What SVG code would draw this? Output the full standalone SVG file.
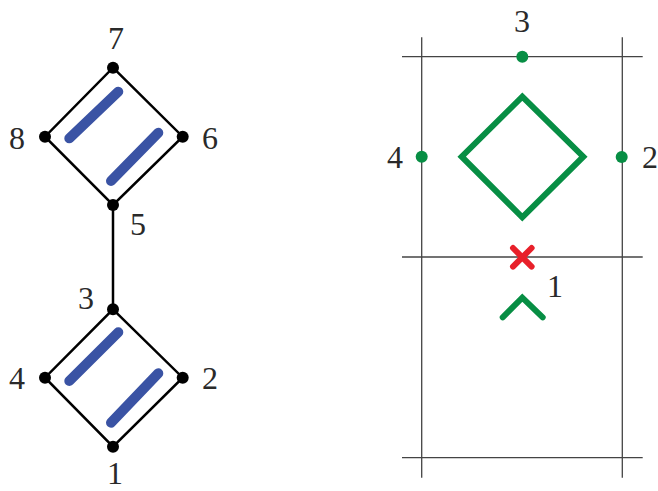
<svg xmlns="http://www.w3.org/2000/svg" width="658" height="491" viewBox="0 0 658 491">
<style>
text{font-family:'Liberation Serif','Times New Roman','DejaVu Serif',Times,serif;font-size:32px;fill:#2a2a2a;text-anchor:middle}
.edge{stroke:#000;stroke-width:2.5;fill:none}
.dot{fill:#000}
.blue{stroke:#3a53a4;stroke-width:10;stroke-linecap:round;fill:none}
.grid{stroke:#444;stroke-width:1.3;fill:none}
.green{stroke:#078e44;stroke-width:6;fill:none;stroke-linecap:round;stroke-linejoin:miter}
.gdot{fill:#078e44}
</style>
<rect width="658" height="491" fill="#fff"/>
<g id="connectors">
<line class="edge" x1="113" y1="205" x2="113" y2="309"/>
</g>
<g id="top-diamond">
<polygon class="edge" points="113,67.7 182.7,136.7 113,205 45,136.7"/>
<line class="blue" x1="118.3" y1="91.7" x2="69.3" y2="138.3"/>
<line class="blue" x1="158.3" y1="132.7" x2="111" y2="181"/>
</g>
<g id="bottom-diamond">
<polygon class="edge" points="113,309.3 182.7,377.7 113,446.7 45,377.7"/>
<line class="blue" x1="118.3" y1="332.3" x2="69.3" y2="381"/>
<line class="blue" x1="158.3" y1="373.3" x2="111" y2="422.7"/>
</g>
<g id="n7"><circle class="dot" cx="113" cy="67.7" r="6"/><text x="116" y="48.5">7</text></g>
<g id="n8"><circle class="dot" cx="45" cy="136.7" r="6"/><text x="17" y="148.5">8</text></g>
<g id="n6"><circle class="dot" cx="182.7" cy="136.7" r="6"/><text x="210" y="148.5">6</text></g>
<g id="n5"><circle class="dot" cx="113" cy="205" r="6"/><text x="138" y="235">5</text></g>
<g id="n3"><circle class="dot" cx="113" cy="309.3" r="6"/><text x="86" y="308.5">3</text></g>
<g id="n4"><circle class="dot" cx="45" cy="377.7" r="6"/><text x="17" y="388.5">4</text></g>
<g id="n2"><circle class="dot" cx="182.7" cy="377.7" r="6"/><text x="210" y="388.5">2</text></g>
<g id="n1"><circle class="dot" cx="113" cy="446.7" r="6"/><text x="115" y="484">1</text></g>
<g id="grid">
<line class="grid" x1="421.7" y1="37.3" x2="421.7" y2="477.7"/>
<line class="grid" x1="622.3" y1="37.3" x2="622.3" y2="477.7"/>
<line class="grid" x1="402" y1="56.7" x2="642.7" y2="56.7"/>
<line class="grid" x1="402" y1="257" x2="642.7" y2="257"/>
<line class="grid" x1="402" y1="457.7" x2="642.7" y2="457.7"/>
</g>
<g id="right-markers">
<circle class="gdot" cx="522.3" cy="56.7" r="6"/>
<circle class="gdot" cx="421.7" cy="156.7" r="6"/>
<circle class="gdot" cx="621.7" cy="157" r="6"/>
<polygon class="green" points="522.3,96.7 583.3,156.7 522.3,217.3 461.7,156.7"/>
<polyline class="green" points="502.7,317.3 522.3,297.7 542.7,317.3"/>
<g stroke="#e8202a" stroke-width="6" stroke-linecap="round">
<line x1="513" y1="248" x2="531.6" y2="266.6"/>
<line x1="531.6" y1="248" x2="513" y2="266.6"/>
</g>
<text x="522" y="31.7">3</text>
<text x="395" y="168">4</text>
<text x="650" y="168">2</text>
<text x="555" y="296.7">1</text>
</g>
</svg>
